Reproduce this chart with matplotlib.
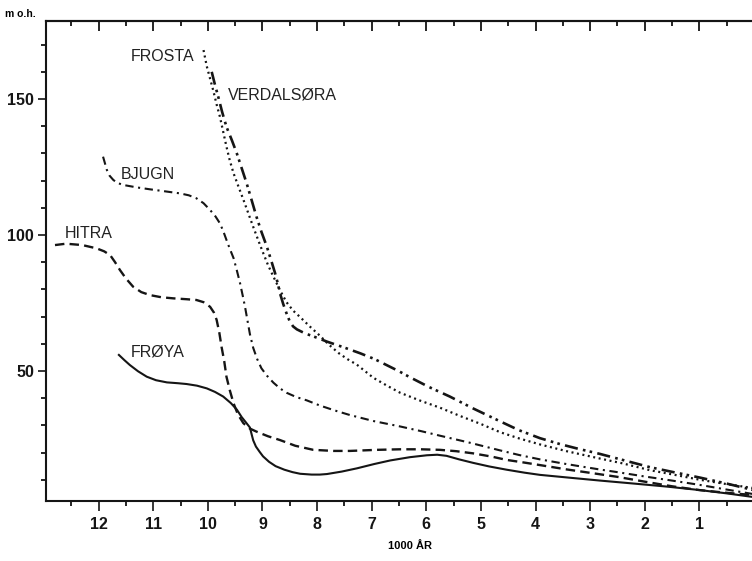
import matplotlib.pyplot as plt
from matplotlib.ticker import MultipleLocator, FixedLocator

plt.rcParams['font.family'] = ['Liberation Sans', 'DejaVu Sans']

# x = 1000 years BP, y = metres above sea level
froya_x = [11.63, 11.53, 11.43, 11.28, 11.12, 10.95, 10.75, 10.55, 10.39, 10.2, 10.02,
           9.87, 9.72, 9.58, 9.47, 9.38, 9.30, 9.23, 9.20, 9.17, 9.12, 9.05, 8.99,
           8.88, 8.76, 8.60, 8.45, 8.31, 8.1, 7.95, 7.82, 7.55, 7.27, 6.95, 6.66,
           6.3, 5.99, 5.8, 5.63, 5.4, 5.14, 4.85, 4.53, 4.2, 3.92, 3.4, 2.82, 2.2,
           1.6, 0.99, 0.5, 0.03]
froya_y = [55.9, 54.0, 52.2, 49.9, 47.9, 46.6, 45.8, 45.5, 45.2, 44.6, 43.6,
           42.3, 40.6, 38.2, 35.8, 33.0, 31.0, 29.2, 26.8, 24.5, 22.2, 20.2, 18.6,
           16.6, 15.0, 13.7, 12.8, 12.2, 11.9, 11.9, 12.1, 13.0, 14.2, 15.8, 17.1,
           18.3, 19.0, 19.2, 18.8, 17.5, 16.2, 14.9, 13.7, 12.6, 11.8, 10.8, 9.7, 8.6,
           7.5, 6.2, 5.0, 3.7]

hitra_x = [12.8, 12.6, 12.3, 12.04, 11.9, 11.79, 11.7, 11.61, 11.5, 11.37, 11.22,
           11.06, 10.85, 10.63, 10.4, 10.21, 10.08, 9.96, 9.89, 9.84, 9.79, 9.75,
           9.70, 9.66, 9.60, 9.53, 9.45, 9.35, 9.23, 9.11, 8.9, 8.68, 8.4, 8.07,
           7.7, 7.40, 6.9, 6.48, 6.1, 5.75, 5.45, 5.14, 4.8, 4.53, 4.2, 3.92, 3.43,
           2.95, 2.51, 2.0, 1.5, 1.0, 0.5, 0.03]
hitra_y = [96.3, 96.8, 96.3, 95.1, 94.0, 92.6, 90.0, 87.1, 84.0, 81.0, 79.0,
           77.9, 77.1, 76.7, 76.4, 76.1, 75.3, 73.6, 71.5, 68.8, 64.0, 58.9,
           53.5, 47.9, 43.0, 38.1, 34.0, 30.8, 28.8, 27.7, 26.0, 24.6, 22.5, 21.0,
           20.6, 20.6, 21.0, 21.2, 21.2, 21.0, 20.5, 19.7, 18.5, 17.3, 16.3, 15.4, 13.8,
           12.4, 11.1, 9.3, 7.6, 6.2, 5.2, 4.4]

bjugn_x = [11.92, 11.88, 11.85, 11.8, 11.73, 11.65, 11.55, 11.3, 11.06, 10.8, 10.51,
           10.35, 10.21, 10.08, 9.96, 9.86, 9.78, 9.72, 9.66, 9.6, 9.53, 9.47, 9.41,
           9.36, 9.32, 9.27, 9.23, 9.17, 9.1, 9.02, 8.92, 8.80, 8.68, 8.56, 8.38,
           8.19, 7.95, 7.68, 7.40, 6.97, 6.48, 6.1, 5.75, 5.2, 4.65, 4.3, 3.92, 3.5,
           3.2, 2.8, 2.5, 2.0, 1.5, 0.99, 0.5, 0.03]
bjugn_y = [128.8, 126.0, 123.9, 121.8, 120.2, 119.1, 118.4, 117.5, 116.8, 116.1, 115.3,
           114.6, 113.5, 111.7, 109.2, 106.8, 104.3, 101.5, 98.2, 95.0, 91.5, 87.0, 82.2,
           77.5, 73.6, 68.0, 63.5, 58.5, 54.5, 51.0, 48.3, 45.7, 43.6, 42.0, 40.4,
           39.2, 37.3, 35.5, 33.8, 31.6, 29.6, 27.9, 26.2, 23.6, 20.8, 19.1, 17.5, 16.0,
           15.0, 13.7, 12.8, 11.2, 9.7, 8.1, 6.4, 4.8]

frosta_x = [10.08, 10.02, 9.96, 9.90, 9.84, 9.78, 9.72, 9.66, 9.60, 9.53, 9.44, 9.35,
            9.26, 9.17, 9.08, 8.99, 8.90, 8.80, 8.68, 8.56, 8.44, 8.31, 8.13, 7.95,
            7.78, 7.60, 7.44, 7.27, 6.97, 6.72, 6.48, 6.1, 5.75, 5.4, 5.0, 4.65, 4.3,
            3.92, 3.43, 2.82, 2.4, 1.9, 1.45, 0.99, 0.5, 0.03]
frosta_y = [168.0, 162.0, 157.5, 153.0, 148.0, 143.5, 138.0, 132.5, 127.5, 122.7, 117.8, 113.0,
            108.0, 103.0, 98.2, 93.5, 89.0, 84.7, 79.7, 75.3, 72.2, 69.8, 66.3, 63.0,
            59.6, 56.5, 54.3, 52.3, 47.5, 44.6, 42.0, 39.0, 36.5, 33.6, 30.5, 27.5, 25.2,
            23.0, 20.5, 17.8, 16.0, 13.5, 11.8, 10.0, 8.4, 7.0]

verdal_x = [9.93, 9.87, 9.81, 9.74, 9.66, 9.56, 9.47, 9.38, 9.29, 9.20, 9.11, 9.02,
            8.92, 8.84, 8.77, 8.72, 8.68, 8.62, 8.56, 8.50, 8.44, 8.37, 8.28, 8.19,
            8.0, 7.82, 7.5, 7.21, 6.95, 6.73, 6.5, 6.30, 5.95, 5.57, 5.14, 4.65, 4.3,
            3.92, 3.55, 3.2, 2.82, 2.35, 1.9, 1.45, 0.99, 0.5, 0.03]
verdal_y = [160.0, 155.2, 150.8, 145.3, 139.8, 134.8, 130.0, 124.5, 119.0, 112.9, 106.7, 101.2,
            95.7, 90.6, 86.0, 82.2, 78.6, 74.6, 71.2, 68.2, 66.4, 65.3, 64.4, 63.6,
            62.2, 60.8, 58.6, 56.5, 54.4, 52.2, 49.9, 47.7, 44.1, 40.6, 36.2, 31.5, 28.2,
            25.3, 23.1, 21.3, 19.5, 17.0, 14.6, 12.7, 10.8, 8.6, 6.3]

# labels: name, left x, centre y
labels = [('FROSTA', 11.41, 165.6), ('VERDALSØRA', 9.63, 151.3), ('BJUGN', 11.60, 122.2),
          ('HITRA', 12.62, 100.4), ('FRØYA', 11.41, 57.0)]

ink = '#151515'

fig = plt.figure(figsize=(7.52, 5.61), dpi=100)
ax = fig.add_axes([0.0608, 0.1075, 0.9392, 0.8551])

ax.plot(froya_x, froya_y, color=ink, lw=1.5, linestyle='-')
ax.plot(hitra_x, hitra_y, color=ink, lw=1.7, linestyle=(0, (4, 2.2)))
ax.plot(bjugn_x, bjugn_y, color=ink, lw=1.5, linestyle=(0, (4, 2.2, 1, 2.2)))
ax.plot(frosta_x, frosta_y, color=ink, lw=1.6, linestyle=(0, (0.9, 1.6)))
ax.plot(verdal_x, verdal_y, color=ink, lw=1.9, linestyle=(0, (5, 2, 1, 1.6, 1, 2)))

for name, lx, ly in labels:
    ax.text(lx, ly, name, ha='left', va='center', fontsize=11.5, color='#222222')

ax.set_xlim(12.97, 0.035)
ax.set_ylim(2.3, 178.7)

ax.xaxis.set_major_locator(FixedLocator(range(1, 13)))
ax.xaxis.set_minor_locator(MultipleLocator(0.5))
ax.yaxis.set_major_locator(FixedLocator([50, 100, 150]))
ax.yaxis.set_minor_locator(FixedLocator(range(10, 180, 10)))

ax.tick_params(axis='x', which='major', direction='out', length=7, width=1.2, pad=5,
               labelsize=11.5, colors=ink)
ax.tick_params(axis='x', which='minor', direction='out', length=3.5, width=1.2)
ax.tick_params(axis='y', which='major', direction='out', length=5.5, width=1.2, pad=3,
               labelsize=11.5, colors=ink)
ax.tick_params(axis='y', which='minor', direction='out', length=3.5, width=1.2)
for lab in ax.get_xticklabels() + ax.get_yticklabels():
    lab.set_fontweight('bold')

top = ax.secondary_xaxis('top')
top.xaxis.set_major_locator(FixedLocator(range(1, 13)))
top.xaxis.set_minor_locator(MultipleLocator(0.5))
top.tick_params(which='major', direction='in', length=7, width=1.2, labeltop=False)
top.tick_params(which='minor', direction='in', length=3.5, width=1.2)
top.spines['top'].set_linewidth(1.5)

ax.spines['right'].set_visible(False)
for s in ['left', 'bottom', 'top']:
    ax.spines[s].set_linewidth(1.5)
    ax.spines[s].set_color(ink)

fig.text(0.0066, 0.975, 'm o.h.', fontsize=7.5, fontweight='bold', ha='left', va='center')
fig.text(0.545, 0.027, '1000 ÅR', fontsize=8, fontweight='bold', ha='center', va='center')

plt.savefig('out.png', dpi=100)
plt.close()
